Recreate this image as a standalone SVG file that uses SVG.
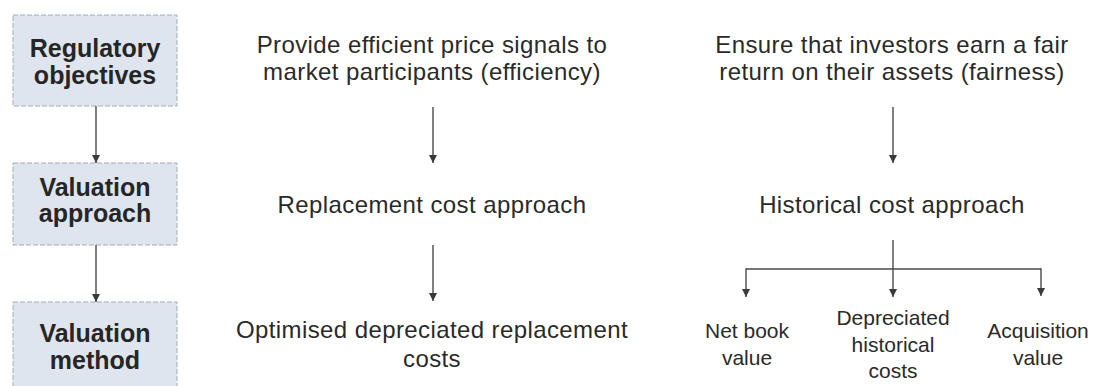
<svg xmlns="http://www.w3.org/2000/svg" width="1095" height="386" viewBox="0 0 1095 386">
  <style>
    .box { fill: #dfe5ee; stroke: #a6abb3; stroke-width: 1; stroke-dasharray: 5 2; }
    .hdr { font-family: "Liberation Sans", Arial, sans-serif; font-weight: bold; font-size: 25px; fill: #262626; text-anchor: middle; }
    .txt { font-family: "Liberation Sans", Arial, sans-serif; font-size: 24px; fill: #2a2a2a; text-anchor: middle; letter-spacing: 0.4px; }
    .sm { font-family: "Liberation Sans", Arial, sans-serif; font-size: 21px; fill: #2a2a2a; text-anchor: middle; }
    .ln { fill: none; stroke: #4a4a4a; stroke-width: 1.4; }
  </style>
  <defs>
    <marker id="tri" viewBox="0 0 10 10" refX="10" refY="5" markerWidth="8" markerHeight="8" markerUnits="userSpaceOnUse" orient="auto">
      <path d="M0,0 L10,5 L0,10 Z" fill="#3a3a3a"/>
    </marker>
  </defs>
  <rect width="1095" height="386" fill="#ffffff"/>

  <!-- row headers -->
  <g id="hdr-objectives">
    <rect class="box" x="13" y="15" width="164" height="91"/>
    <text class="hdr" x="95" y="57">Regulatory</text>
    <text class="hdr" x="95" y="84">objectives</text>
  </g>
  <g id="hdr-approach">
    <rect class="box" x="13" y="163" width="164" height="82"/>
    <text class="hdr" x="95" y="196">Valuation</text>
    <text class="hdr" x="95" y="222">approach</text>
  </g>
  <g id="hdr-method">
    <rect class="box" x="13" y="302" width="164" height="92"/>
    <text class="hdr" x="95" y="342">Valuation</text>
    <text class="hdr" x="95" y="369">method</text>
  </g>

  <!-- efficiency column -->
  <g id="obj-efficiency">
    <text class="txt" x="432" y="53">Provide efficient price signals to</text>
    <text class="txt" x="432" y="80">market participants (efficiency)</text>
  </g>
  <g id="app-replacement">
    <text class="txt" x="432" y="213">Replacement cost approach</text>
  </g>
  <g id="meth-odrc">
    <text class="txt" x="432" y="338">Optimised depreciated replacement</text>
    <text class="txt" x="432" y="367">costs</text>
  </g>

  <!-- fairness column -->
  <g id="obj-fairness">
    <text class="txt" x="892" y="53">Ensure that investors earn a fair</text>
    <text class="txt" x="892" y="80">return on their assets (fairness)</text>
  </g>
  <g id="app-historical">
    <text class="txt" x="892" y="213">Historical cost approach</text>
  </g>
  <g id="meth-nbv">
    <text class="sm" x="747" y="338">Net book</text>
    <text class="sm" x="747" y="365">value</text>
  </g>
  <g id="meth-dhc">
    <text class="sm" x="893" y="325">Depreciated</text>
    <text class="sm" x="893" y="352">historical</text>
    <text class="sm" x="893" y="378">costs</text>
  </g>
  <g id="meth-acq">
    <text class="sm" x="1038" y="338">Acquisition</text>
    <text class="sm" x="1038" y="365">value</text>
  </g>

  <!-- connectors -->
  <g id="connectors">
    <line class="ln" x1="96" y1="106" x2="96" y2="163" marker-end="url(#tri)"/>
    <line class="ln" x1="96" y1="245" x2="96" y2="302" marker-end="url(#tri)"/>
    <line class="ln" x1="433" y1="107" x2="433" y2="163" marker-end="url(#tri)"/>
    <line class="ln" x1="433" y1="245" x2="433" y2="301" marker-end="url(#tri)"/>
    <line class="ln" x1="893" y1="107" x2="893" y2="163" marker-end="url(#tri)"/>
    <line class="ln" x1="893" y1="240" x2="893" y2="297" marker-end="url(#tri)"/>
    <line class="ln" x1="746" y1="269" x2="1041" y2="269"/>
    <line class="ln" x1="746" y1="268.3" x2="746" y2="297" marker-end="url(#tri)"/>
    <line class="ln" x1="1041" y1="268.3" x2="1041" y2="296" marker-end="url(#tri)"/>
  </g>
</svg>
